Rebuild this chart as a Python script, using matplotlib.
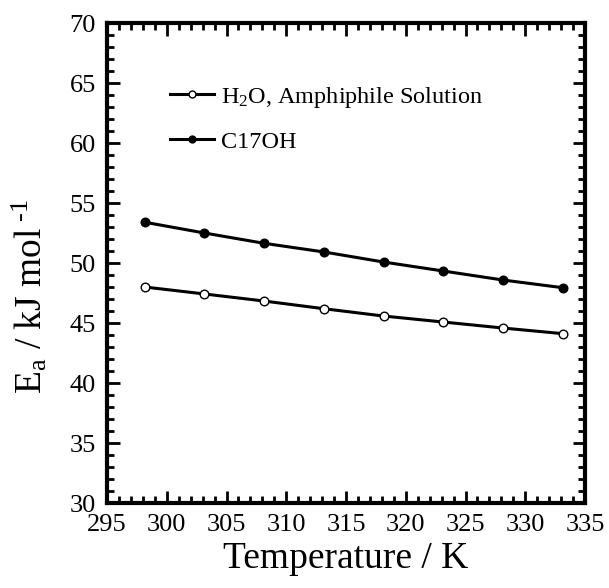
import numpy as np
import matplotlib
matplotlib.use('Agg')
import matplotlib.pyplot as plt
from matplotlib.ticker import MultipleLocator

plt.rcParams['font.family'] = ['Liberation Serif', 'DejaVu Serif']
plt.rcParams['mathtext.fontset'] = 'custom'
plt.rcParams['mathtext.rm'] = 'Liberation Serif'
plt.rcParams['mathtext.it'] = 'Liberation Serif:italic'

#data
temps = [298.15, 303.15, 308.15, 313.15, 318.15, 323.15, 328.15, 333.15]
ea_water = [48.0, 47.42, 46.83, 46.19, 45.58, 45.08, 44.58, 44.11]
ea_c17oh = [53.4, 52.5, 51.64, 50.92, 50.08, 49.33, 48.58, 47.94]
lab_water = 'H$_2$O, Amphiphile Solution'
lab_c17oh = 'C17OH'

fig = plt.figure(figsize=(6.09, 5.88), dpi=100)
ax = fig.add_axes([107/609, 1-503/588, 478/609, 480/588])

ax.plot(temps, ea_water, '-', color='black', lw=2.2, marker='o', ms=6.2,
        mfc='white', mec='black', mew=1.0, label=lab_water)
ax.plot(temps, ea_c17oh, '-', color='black', lw=2.2, marker='o', ms=6.2,
        mfc='black', mec='black', mew=1.0, label=lab_c17oh)

ax.set_xlim(295, 335)
ax.set_ylim(30, 70)
ax.xaxis.set_major_locator(MultipleLocator(5))
ax.xaxis.set_minor_locator(MultipleLocator(1))
ax.yaxis.set_major_locator(MultipleLocator(5))
ax.yaxis.set_minor_locator(MultipleLocator(1))
ax.tick_params(which='both', direction='in', top=True, right=True,
               labelsize=19, width=2, pad=8)
ax.tick_params(which='major', length=9)
ax.tick_params(which='minor', length=5)
for sp in ax.spines.values():
    sp.set_linewidth(3)

ax.set_xlabel('Temperature / K', size=27, labelpad=4)
ax.set_ylabel(r'E$_\mathrm{a}$ / kJ mol$^{\text{ -1}}$', size=27)
ax.yaxis.set_label_coords(-0.12, 0.43)

leg = ax.legend(loc='upper left', bbox_to_anchor=(0.132, 0.871), frameon=False,
                fontsize=17.5, handlelength=1.8, handletextpad=0.3,
                labelspacing=0.85, markerscale=0.8, borderpad=0,
                borderaxespad=0)

plt.savefig('out.png', dpi=100)
